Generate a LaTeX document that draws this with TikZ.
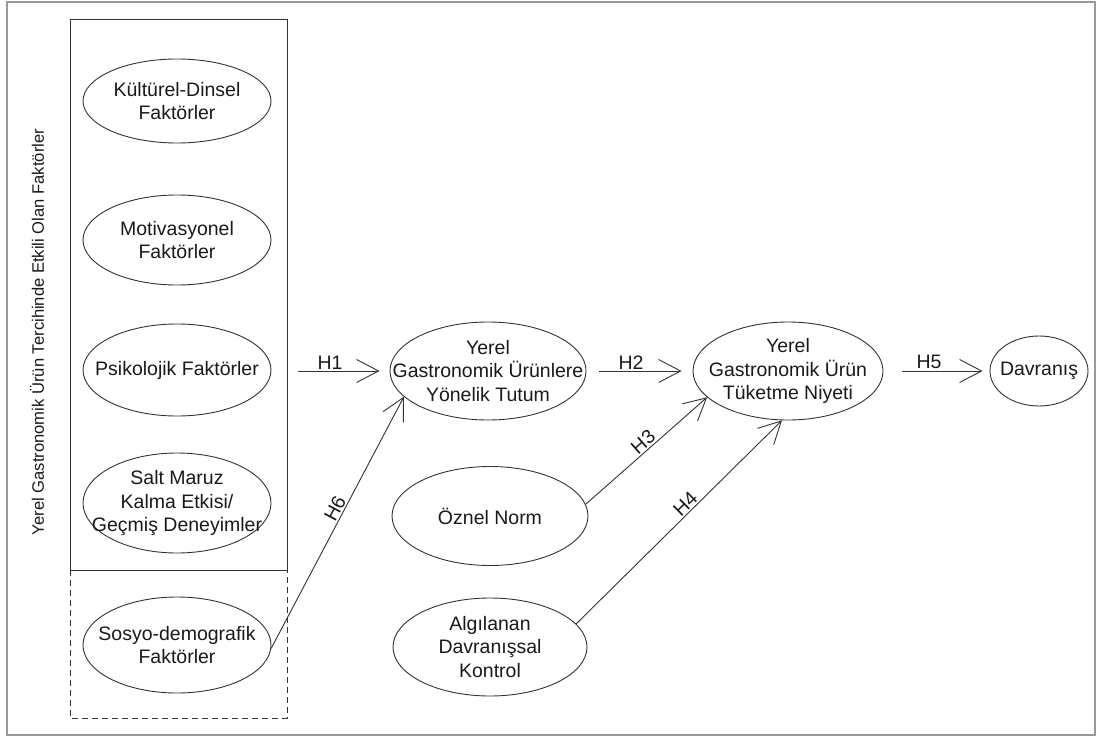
\documentclass[tikz,border=0pt]{standalone}
\usepackage{fontspec}
\setmainfont{Liberation Sans}
\usetikzlibrary{shapes.geometric,arrows.meta}

\begin{document}
\begin{tikzpicture}[x=1pt,y=-1pt,
  ell/.style={ellipse,draw=black!80,line width=0.9pt,inner sep=0pt},
  txt/.style={align=center,text=black!90,font=\fontsize{19.5}{23.5}\selectfont},
  hyp/.style={draw=black!80,line width=0.9pt,-{Straight Barb[length=22pt,width=23pt,line width=0.9pt]}},
  hlab/.style={text=black!90,font=\fontsize{19.5}{23.5}\selectfont,inner sep=1.5pt}
]
\useasboundingbox (0,0) rectangle (1097,738);

% outer frame
\draw[black!40,line width=1.4pt] (7,2) rectangle (1095,735);

% group box: solid upper part, dashed lower part
\draw[black!80,line width=0.9pt] (70,570) -- (70,19) -- (287,19) -- (287,570) -- cycle;
\draw[black!80,line width=0.9pt,dash pattern=on 6pt off 4pt] (70,570) -- (70,718) -- (287,718) -- (287,570);

% vertical title
\node[text=black!90,font=\fontsize{16.6}{20}\selectfont,rotate=90] (title) at (37,332) {Yerel Gastronomik Ürün Tercihinde Etkili Olan Faktörler};

% factor ellipses
\node[ell,minimum width=188pt,minimum height=84pt] (kd) at (177,101) {};
\node[txt] (kdt) at (kd) {Kültürel-Dinsel\\Faktörler};
\node[ell,minimum width=188pt,minimum height=90pt] (mf) at (177,240) {};
\node[txt] (mft) at (mf) {Motivasyonel\\Faktörler};
\node[ell,minimum width=188pt,minimum height=92pt] (pf) at (177,370) {};
\node[txt] (pft) at (pf) {Psikolojik Faktörler};
\node[ell,minimum width=188pt,minimum height=100pt] (sm) at (177,503) {};
\node[txt] (smt) at (sm) {Salt Maruz\\Kalma Etkisi/\\Geçmiş Deneyimler};
\node[ell,minimum width=188pt,minimum height=96pt] (sd) at (177,645) {};
\node[txt] (sdt) at (sd) {Sosyo-demografik\\Faktörler};

% model ellipses
\node[ell,minimum width=196pt,minimum height=98pt] (tu) at (488,371) {};
\node[txt] (tut) at (tu) {Yerel\\Gastronomik Ürünlere\\Yönelik Tutum};
\node[ell,minimum width=190pt,minimum height=98pt] (ni) at (788,371) {};
\node[txt] (nit) at (ni) {Yerel\\Gastronomik Ürün\\Tüketme Niyeti};
\node[ell,minimum width=98pt,minimum height=70pt] (dv) at (1039,371) {};
\node[txt] (dvt) at (dv) {Davranış};
\node[ell,minimum width=196pt,minimum height=99pt] (on) at (490,516) {};
\node[txt] (ont) at (on) {Öznel Norm};
\node[ell,minimum width=194pt,minimum height=98pt] (ak) at (490,647) {};
\node[txt] (akt) at (ak) {Algılanan\\Davranışsal\\Kontrol};

% hypotheses
\coordinate (h1s) at (298,371);
\draw[hyp,shorten >=10pt] (h1s) -- node[hlab,above,pos=0.35] {H1} (tu.west);
\draw[hyp,shorten <=13pt,shorten >=11pt] (tu.east) -- node[hlab,above,pos=0.42] {H2} (ni.west);
\draw[hyp,shorten <=19pt,shorten >=7pt] (ni.east) -- node[hlab,above,pos=0.43] {H5} (dv.west);
\draw[hyp] (on.7) -- node[hlab,above,sloped,pos=0.52] {H3} (ni.198);
\draw[hyp] (ak.15) -- node[hlab,above,sloped,pos=0.56] {H4} (ni.263);
\draw[hyp] (sd.-2) -- node[hlab,above,sloped,pos=0.54] {H6} (tu.197);
\end{tikzpicture}
\end{document}
